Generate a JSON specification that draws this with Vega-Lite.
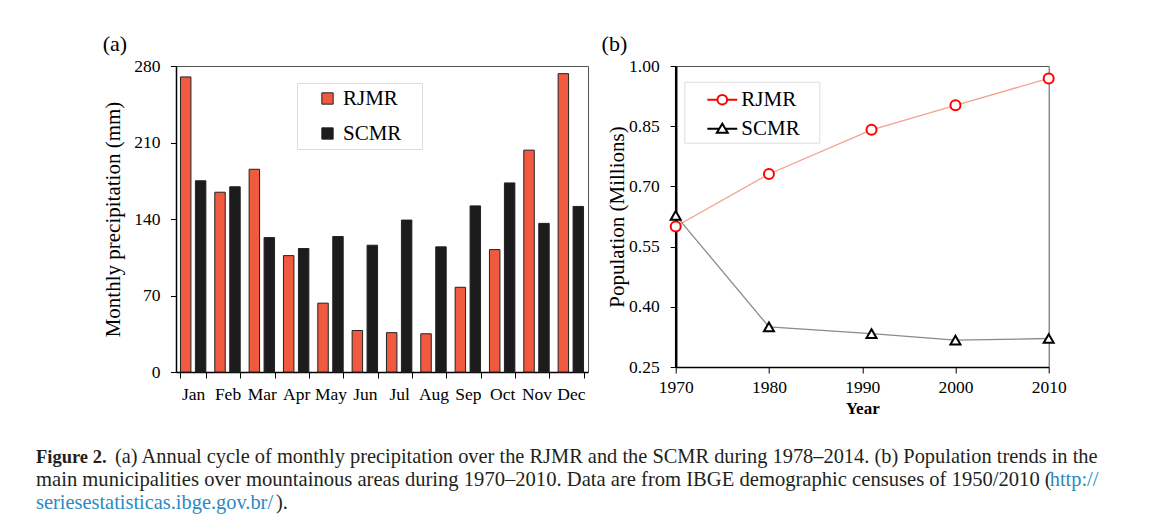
{
  "$schema": "https://vega.github.io/schema/vega-lite/v6.json",
  "background": "white",
  "padding": {"left": 36, "top": 32, "right": 5, "bottom": 0},
  "columns": 2,
  "bounds": "flush",
  "align": "each",
  "spacing": {"row": 91, "column": 87.7},
  "resolve": {"scale": {"color": "independent", "shape": "independent"}, "legend": {"color": "independent", "shape": "independent"}},
  "config": {
    "font": "Liberation Serif",
    "view": {"stroke": "#555", "strokeWidth": 1},
    "axis": {
      "labelFont": "Liberation Serif",
      "titleFont": "Liberation Serif",
      "labelColor": "#000",
      "titleColor": "#000",
      "domainColor": "#000",
      "tickColor": "#000",
      "grid": false,
      "labelFontSize": 17.5,
      "labelFontWeight": "normal",
      "titleFontSize": 21,
      "titleFontWeight": "normal",
      "tickSize": 5.5
    },
    "title": {"font": "Liberation Serif", "fontSize": 22, "fontWeight": "normal", "anchor": "start", "frame": "bounds", "color": "#000"}
  },
  "concat": [
    {
      "width": 412,
      "height": 306,
      "title": {"text": "(a)", "offset": 1},
      "data": {
        "values": [
          {"month": "Jan", "series": "RJMR", "precip": 270},
          {"month": "Jan", "series": "SCMR", "precip": 175},
          {"month": "Feb", "series": "RJMR", "precip": 164.5},
          {"month": "Feb", "series": "SCMR", "precip": 169.5},
          {"month": "Mar", "series": "RJMR", "precip": 185.5},
          {"month": "Mar", "series": "SCMR", "precip": 123},
          {"month": "Apr", "series": "RJMR", "precip": 106.5},
          {"month": "Apr", "series": "SCMR", "precip": 113},
          {"month": "May", "series": "RJMR", "precip": 63},
          {"month": "May", "series": "SCMR", "precip": 124},
          {"month": "Jun", "series": "RJMR", "precip": 38},
          {"month": "Jun", "series": "SCMR", "precip": 116},
          {"month": "Jul", "series": "RJMR", "precip": 36},
          {"month": "Jul", "series": "SCMR", "precip": 139},
          {"month": "Aug", "series": "RJMR", "precip": 35},
          {"month": "Aug", "series": "SCMR", "precip": 114.5},
          {"month": "Sep", "series": "RJMR", "precip": 77.5},
          {"month": "Sep", "series": "SCMR", "precip": 152},
          {"month": "Oct", "series": "RJMR", "precip": 112},
          {"month": "Oct", "series": "SCMR", "precip": 173},
          {"month": "Nov", "series": "RJMR", "precip": 203},
          {"month": "Nov", "series": "SCMR", "precip": 136},
          {"month": "Dec", "series": "RJMR", "precip": 273},
          {"month": "Dec", "series": "SCMR", "precip": 151.5}
        ]
      },
      "mark": {"type": "bar", "stroke": "#222", "strokeWidth": 1},
      "encoding": {
        "x": {
          "field": "month",
          "type": "nominal",
          "sort": ["Jan", "Feb", "Mar", "Apr", "May", "Jun", "Jul", "Aug", "Sep", "Oct", "Nov", "Dec"],
          "scale": {"paddingInner": 0.26, "paddingOuter": 0.13},
          "axis": {"title": null, "labelAngle": 0, "tickBand": "extent", "tickSize": 6, "labelPadding": 7, "domainWidth": 1.5}
        },
        "xOffset": {
          "field": "series",
          "type": "nominal",
          "sort": ["RJMR", "SCMR"],
          "scale": {"paddingInner": 0.3, "paddingOuter": 0}
        },
        "y": {
          "field": "precip",
          "type": "quantitative",
          "scale": {"domain": [0, 280], "nice": false},
          "axis": {
            "values": [0, 70, 140, 210, 280],
            "title": "Monthly precipitation (mm)",
            "labelPadding": 10.5,
            "titlePadding": 10,
            "domainWidth": 1.5,
            "encode": {"ticks": {"x": {"value": 5.5}}}
          }
        },
        "color": {
          "field": "series",
          "type": "nominal",
          "scale": {"domain": ["RJMR", "SCMR"], "range": ["#F05A40", "#1C1C1C"]},
          "legend": {
            "title": null,
            "orient": "none",
            "legendX": 121,
            "legendY": 17,
            "symbolType": "square",
            "symbolSize": 128,
            "symbolStrokeColor": "#222",
            "symbolStrokeWidth": 1,
            "labelFont": "Liberation Serif",
            "labelFontSize": 21,
            "labelColor": "#000",
            "fillColor": "white",
            "strokeColor": "#dddddd",
            "padding": 5,
            "rowPadding": 13,
            "symbolOffset": 15,
            "labelOffset": 5,
            "labelExpr": "datum.label + '\u2800'"
          }
        }
      }
    },
    {
      "width": 373,
      "height": 301,
      "title": {"text": "(b)", "offset": 1, "dx": -5},
      "data": {
        "values": [
          {"year": 1970, "series": "RJMR", "pop": 0.600},
          {"year": 1980, "series": "RJMR", "pop": 0.731},
          {"year": 1991, "series": "RJMR", "pop": 0.841},
          {"year": 2000, "series": "RJMR", "pop": 0.902},
          {"year": 2010, "series": "RJMR", "pop": 0.969},
          {"year": 1970, "series": "SCMR", "pop": 0.628},
          {"year": 1980, "series": "SCMR", "pop": 0.350},
          {"year": 1991, "series": "SCMR", "pop": 0.333},
          {"year": 2000, "series": "SCMR", "pop": 0.317},
          {"year": 2010, "series": "SCMR", "pop": 0.321}
        ]
      },
      "encoding": {
        "x": {
          "field": "year",
          "type": "quantitative",
          "scale": {"domain": [1970, 2010], "nice": false, "zero": false},
          "axis": {
            "values": [1970, 1980, 1990, 2000, 2010],
            "format": "d",
            "title": "Year",
            "titleFontWeight": "bold",
            "titleFontSize": 17,
            "labelFlush": false,
            "labelFontWeight": "normal",
            "tickSize": 6,
            "labelPadding": 5.5,
            "titlePadding": 4,
            "domainWidth": 1.5,
            "encode": {"ticks": {"y": {"value": -6}}}
          }
        },
        "y": {
          "field": "pop",
          "type": "quantitative",
          "scale": {"domain": [0.25, 1.0], "nice": false, "zero": false},
          "axis": {
            "values": [0.25, 0.40, 0.55, 0.70, 0.85, 1.00],
            "format": ".2f",
            "title": "Population (Millions)",
            "labelFlush": false,
            "labelPadding": 11,
            "titlePadding": 1,
            "domainWidth": 2.5,
            "encode": {"ticks": {"x": {"value": 5.5}}}
          }
        }
      },
      "layer": [
        {
          "mark": {"type": "line", "strokeWidth": 1.3},
          "encoding": {
            "detail": {"field": "series"},
            "color": {"condition": {"test": "datum.series === 'RJMR'", "value": "#F4A18E"}, "value": "#8a8a8a"}
          }
        },
        {
          "mark": {"type": "point", "filled": false, "fill": "white", "strokeWidth": 2, "size": 100, "opacity": 1},
          "encoding": {
            "detail": {"field": "series"},
            "color": {"condition": {"test": "datum.series === 'RJMR'", "value": "#FF0000"}, "value": "#000000"},
            "shape": {"condition": {"test": "datum.series === 'RJMR'", "value": "circle"}, "value": "triangle-up"}
          }
        },
        {
          "mark": {"type": "point", "filled": false, "strokeWidth": 2, "opacity": 0},
          "encoding": {
            "color": {
              "field": "series",
              "type": "nominal",
              "scale": {"domain": ["RJMR", "SCMR"], "range": ["#FF0000", "#000000"]},
              "legend": {
                "title": null,
                "orient": "none",
                "legendX": 8.6,
                "legendY": 15.7,
                "symbolSize": 676,
                "symbolStrokeWidth": 2,
                "symbolOpacity": 1,
                "labelFont": "Liberation Serif",
                "labelFontSize": 21,
                "labelColor": "#000",
                "labelOffset": 5,
                "padding": 4,
                "rowPadding": 5,
                "symbolOffset": 20,
                "fillColor": "white",
                "strokeColor": "#dddddd",
                "labelExpr": "datum.label + '\u2800'"
              }
            },
            "shape": {
              "field": "series",
              "type": "nominal",
              "scale": {
                "domain": ["RJMR", "SCMR"],
                "range": [
                  "M-1.15,0H-0.37M0.37,0H1.15M0.37,0A0.37,0.37 0 1 1 -0.37,0A0.37,0.37 0 1 1 0.37,0",
                  "M-1.15,0H-0.22M0.22,0H1.15M0,-0.38L0.42,0.32L-0.42,0.32Z"
                ]
              },
              "legend": {
                "title": null,
                "orient": "none",
                "legendX": 8.6,
                "legendY": 15.7,
                "symbolSize": 676,
                "symbolStrokeWidth": 2,
                "symbolOpacity": 1,
                "labelFont": "Liberation Serif",
                "labelFontSize": 21,
                "labelColor": "#000",
                "labelOffset": 5,
                "padding": 4,
                "rowPadding": 5,
                "symbolOffset": 20,
                "fillColor": "white",
                "strokeColor": "#dddddd",
                "labelExpr": "datum.label + '\u2800'"
              }
            }
          }
        }
      ]
    },
    {
      "width": 400,
      "height": 46,
      "view": {"stroke": null},
      "data": {
        "values": [
          {"part": "l1a", "line": 1, "text": "Figure 2."},
          {"part": "l1b", "line": 1, "text": "(a) Annual cycle of monthly precipitation over the RJMR and the SCMR during 1978–2014. (b) Population trends in the"},
          {"part": "l2a", "line": 2, "text": "main municipalities over mountainous areas during 1970–2010. Data are from IBGE demographic censuses of 1950/2010 ("},
          {"part": "l2b", "line": 2, "text": "http://"},
          {"part": "l3a", "line": 3, "text": "seriesestatisticas.ibge.gov.br/"},
          {"part": "l3b", "line": 3, "text": ")."}
        ]
      },
      "encoding": {
        "y": {"field": "line", "type": "ordinal", "axis": null, "scale": {"type": "point", "padding": 0}},
        "x": {"value": 0},
        "text": {"field": "text"}
      },
      "layer": [
        {"transform": [{"filter": "datum.part === 'l1a'"}], "mark": {"type": "text", "align": "left", "baseline": "alphabetic", "fontSize": 18.5, "fontWeight": "bold", "color": "#231F20", "dx": -140}},
        {"transform": [{"filter": "datum.part === 'l1b'"}], "mark": {"type": "text", "align": "left", "baseline": "alphabetic", "fontSize": 20.4, "color": "#231F20", "dx": -61}},
        {"transform": [{"filter": "datum.part === 'l2a'"}], "mark": {"type": "text", "align": "left", "baseline": "alphabetic", "fontSize": 20.6, "color": "#231F20", "dx": -140}},
        {"transform": [{"filter": "datum.part === 'l2b'"}], "mark": {"type": "text", "align": "left", "baseline": "alphabetic", "fontSize": 20.4, "color": "#2A8AC4", "dx": 873.7}},
        {"transform": [{"filter": "datum.part === 'l3a'"}], "mark": {"type": "text", "align": "left", "baseline": "alphabetic", "fontSize": 20.4, "color": "#2A8AC4", "dx": -140}},
        {"transform": [{"filter": "datum.part === 'l3b'"}], "mark": {"type": "text", "align": "left", "baseline": "alphabetic", "fontSize": 20.4, "color": "#231F20", "dx": 100}}
      ]
    }
  ]
}
